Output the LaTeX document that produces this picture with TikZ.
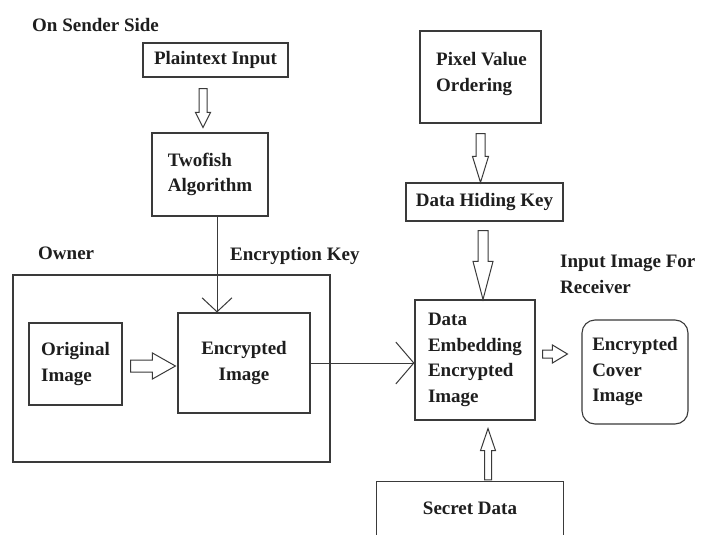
\documentclass[tikz,border=0pt]{standalone}
\usepackage{fontspec}
\setmainfont{Liberation Serif}
\usetikzlibrary{calc,arrows.meta}
\definecolor{linec}{HTML}{3A3A3A}
\definecolor{txtc}{HTML}{1E1E1E}
\tikzset{
  lbl/.style={font=\fontsize{19}{25.5}\selectfont\bfseries, text=txtc, inner sep=0pt},
  box/.style={lbl, draw=linec, line width=1.1pt, align=center},
  boxl/.style={box, align=left},
  hollow/.style={draw=linec, line width=1pt, fill=white, line join=miter},
  conn/.style={draw=linec, line width=1pt},
}
% vertical block arrow: from #1 to #2, shaft half width #3, head half width #4, signed head length #5
\newcommand\vblockarrow[5]{%
  \draw[hollow] let \p1=(#1), \p2=(#2) in
    (\x1-#3,\y1) -- (\x1+#3,\y1) -- (\x1+#3,\y2+#5) -- (\x1+#4,\y2+#5) -- (\x1,\y2)
    -- (\x1-#4,\y2+#5) -- (\x1-#3,\y2+#5) -- cycle;}
% horizontal block arrow pointing right
\newcommand\hblockarrow[5]{%
  \draw[hollow] let \p1=(#1), \p2=(#2) in
    (\x1,\y1-#3) -- (\x2-#5,\y1-#3) -- (\x2-#5,\y1-#4) -- (\x2,\y1)
    -- (\x2-#5,\y1+#4) -- (\x2-#5,\y1+#3) -- (\x1,\y1+#3) -- cycle;}
\begin{document}
\begin{tikzpicture}[x=1pt,y=-1pt]
\useasboundingbox[fill=white] (0,0) rectangle (701,535);

% free labels
\node[lbl, anchor=west] (sender) at (32,25) {On Sender Side};
\node[lbl, anchor=west] (ownerlbl) at (38,253) {Owner};
\node[lbl, anchor=west] (enckey) at (230,256) {Encryption Key};
\node[lbl, anchor=west, align=left] (inputrx) at (560,274.5) {Input Image For\\Receiver};

% boxes
\node[box, minimum width=145pt, minimum height=34pt] (plain) at (215.5,60) {Plaintext Input};
\node[boxl, minimum width=116pt, minimum height=83pt] (twofish) at (210,174.5) {Twofish\\Algorithm};
\node[draw=linec, line width=1.3pt, minimum width=317pt, minimum height=187pt, inner sep=0pt] (owner) at (171.5,368.5) {};
\node[boxl, minimum width=93pt, minimum height=82pt] (orig) at (75.5,364) {Original\\Image};
\node[box, minimum width=132pt, minimum height=100pt] (enc) at (244,363) {Encrypted\\Image};
\node[draw=linec, line width=1.1pt, minimum width=121pt, minimum height=92pt, inner sep=0pt] (pvo) at (480.5,77) {};
\node[lbl, align=left] (pvotext) at ($(pvo.center)+(1,-3)$) {Pixel Value\\Ordering};
\node[box, minimum width=157pt, minimum height=38pt] (dhk) at (484.5,202) {Data Hiding Key};
\node[boxl, minimum width=120pt, minimum height=120pt] (emb) at (475,360) {Data\\Embedding\\Encrypted\\Image};
\node[boxl, rounded corners=13pt, minimum width=106pt, minimum height=104pt] (cover) at (635,372) {Encrypted\\Cover\\Image};
\node[lbl, minimum width=186pt, minimum height=53pt] (sd) at (470,508.5) {Secret Data};
\draw[linec, line width=1.1pt] (sd.south west) |- (sd.north east) -- (sd.south east);

% line connectors
\coordinate (k1) at ($(twofish.south)+(7,0)$);
\draw[conn, -{Straight Barb[length=14pt, width=30pt]}] (k1) -- (k1 |- enc.north);
\draw[conn, -{Straight Barb[length=18pt, width=42pt]}] (enc.east) -- (enc.east -| emb.west);

% block arrows
\coordinate (a1s) at ($(plain.south)+(-12.5,11)$);
\coordinate (a1e) at ($(twofish.north -| a1s)+(0,-5)$);
\vblockarrow{a1s}{a1e}{4pt}{7.5pt}{15pt}

\coordinate (a2s) at ($(orig.east)+(8,2)$);
\coordinate (a2e) at ($(enc.west |- a2s)+(-2,0)$);
\hblockarrow{a2s}{a2e}{6pt}{13pt}{23pt}

\coordinate (a3s) at ($(pvo.south)+(0,10)$);
\coordinate (a3e) at (dhk.north -| a3s);
\vblockarrow{a3s}{a3e}{4.5pt}{8pt}{26pt}

\coordinate (a4s) at ($(dhk.south)+(-1.5,9)$);
\coordinate (a4e) at (emb.north -| a4s);
\vblockarrow{a4s}{a4e}{5pt}{10pt}{38pt}

\coordinate (a5s) at ($(emb.east)+(7,-6)$);
\coordinate (a5e) at ($(cover.west |- a5s)+(-14,0)$);
\hblockarrow{a5s}{a5e}{4pt}{9pt}{15pt}

\coordinate (a6s) at ($(sd.north)+(18,-2)$);
\coordinate (a6e) at ($(emb.south -| a6s)+(0,8)$);
\vblockarrow{a6s}{a6e}{3.5pt}{7.5pt}{-22pt}
\end{tikzpicture}
\end{document}
